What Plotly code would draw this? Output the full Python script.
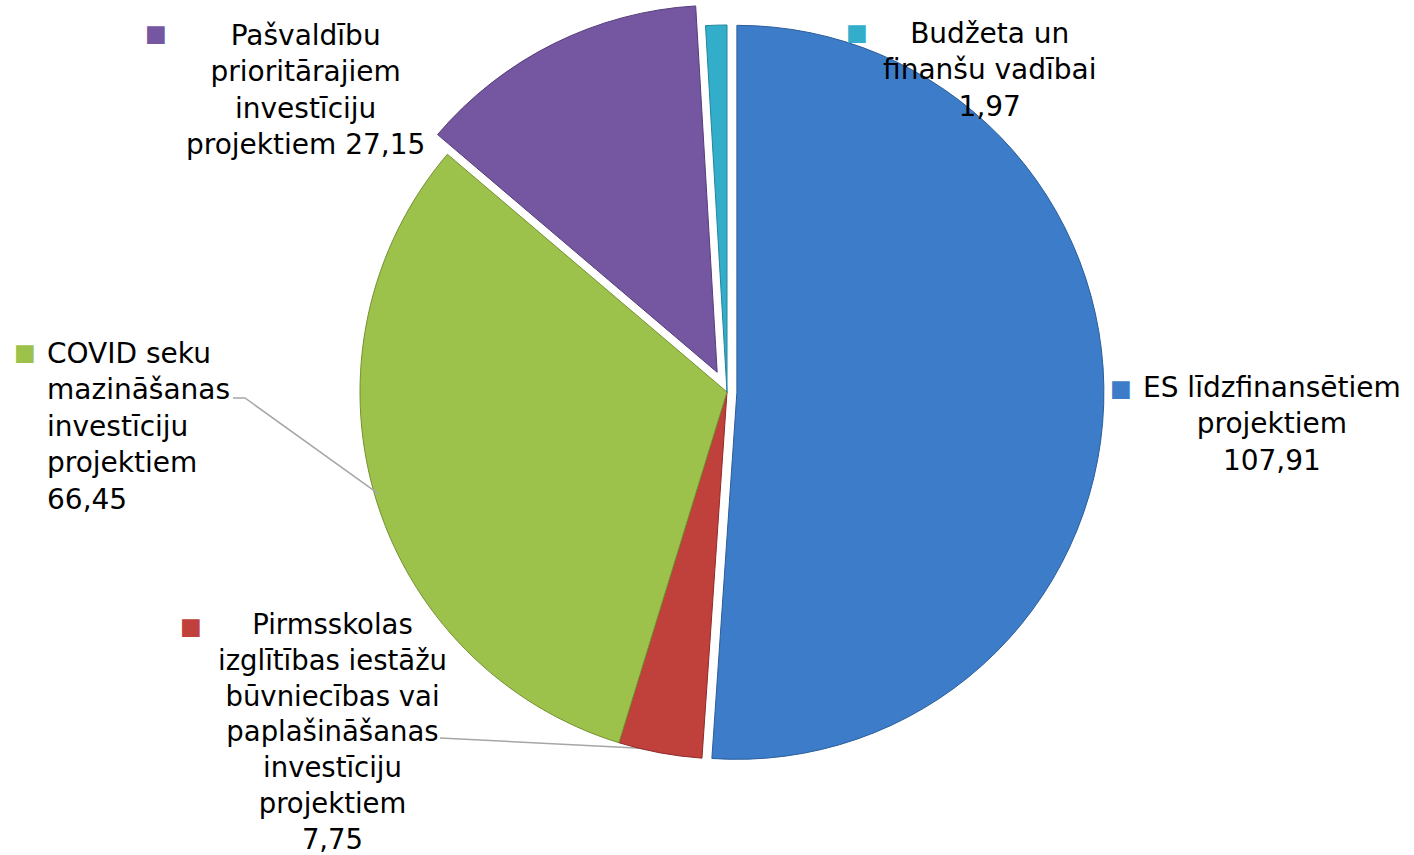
import math
import plotly.graph_objects as go

# ---- data ----
categories = [
    "ES līdzfinansētiem projektiem",
    "Pirmsskolas izglītības iestāžu būvniecības vai paplašināšanas investīciju projektiem",
    "COVID seku mazināšanas investīciju projektiem",
    "Pašvaldību prioritārajiem investīciju projektiem",
    "Budžeta un finanšu vadībai",
]
values = [107.91, 7.75, 66.45, 27.15, 1.97]
value_labels = ["107,91", "7,75", "66,45", "27,15", "1,97"]

# ---- style / layout ----
W, H = 1414, 855
colors = ["#3d7cc8", "#c0403c", "#9cc24c", "#7456a1", "#32aecb"]
edge_colors = ["#2c5d99", "#8e2b28", "#73922f", "#553d7a", "#23849c"]
pulls = [0.027, 0.0, 0.0, 0.06, 0.0]
CX, CY, R = 727, 392, 367  # desired pie centre / radius in px
FONT = "DejaVu Sans, Verdana, sans-serif"
FS = 28

box = 2 * R * (1 + max(pulls))
dom_x = [(CX - box / 2) / W, (CX + box / 2) / W]
dom_y = [1 - (CY + box / 2) / H, 1 - (CY - box / 2) / H]


def px(x):
    return x / W


def py(y):
    return 1 - y / H


fig = go.Figure(go.Pie(
    labels=categories,
    values=values,
    sort=False,
    direction="clockwise",
    rotation=0,
    pull=pulls,
    textinfo="none",
    marker=dict(colors=colors, line=dict(color=edge_colors, width=1)),
    domain=dict(x=dom_x, y=dom_y),
    showlegend=False,
    hovertemplate="%{label}: %{value}<extra></extra>",
))

# label blocks: (text lines, x, y-middle, align, square position, font size)
labels_cfg = [
    (["ES līdzfinansētiem", "projektiem", value_labels[0]], 1272, 424, "center", (1121, 388), FS),
    (["Pirmsskolas", "izglītības iestāžu", "būvniecības vai", "paplašināšanas",
      "investīciju", "projektiem", value_labels[1]], 332, 731, "center", (191, 626), 27.5),
    (["COVID seku", "mazināšanas", "investīciju", "projektiem", value_labels[2]], 45, 426, "left", (25, 352), FS),
    (["Pašvaldību", "prioritārajiem", "investīciju", "projektiem " + value_labels[3]], 305, 90, "center", (156, 33), FS),
    (["Budžeta un", "finanšu vadībai", value_labels[4]], 990, 70, "center", (857, 32), FS),
]

annotations = []
for i, (lines, x, y, align, sq, fs) in enumerate(labels_cfg):
    annotations.append(dict(
        x=px(x), y=py(y), xref="paper", yref="paper",
        xanchor="left" if align == "left" else "center", yanchor="middle",
        align=align, showarrow=False,
        text="<br>".join(lines),
        font=dict(family=FONT, size=fs, color="#000000"),
    ))
    annotations.append(dict(
        x=px(sq[0]), y=py(sq[1]), xref="paper", yref="paper",
        xanchor="center", yanchor="middle", showarrow=False,
        text="■", font=dict(family=FONT, size=23, color=colors[i]),
    ))

# leader lines, ending at slice midpoints computed from the data
total = sum(values)
cum = 0
mid_angles = []
for v in values:
    mid_angles.append((cum + v / 2) / total * 2 * math.pi)
    cum += v


def slice_point(i, frac=0.99):
    a = mid_angles[i]
    p = pulls[i]
    cx = CX + p * R * math.sin(a)
    cy = CY - p * R * math.cos(a)
    return cx + frac * R * math.sin(a), cy - frac * R * math.cos(a)


shapes = []
line_style = dict(color="#a6a6a6", width=1.5)
# COVID
ex, ey = slice_point(2)
shapes.append(dict(type="path", xref="paper", yref="paper",
                   path=f"M {px(233)} {py(398)} L {px(245)} {py(398)} L {px(ex)} {py(ey)}",
                   line=line_style))
# Pirmsskolas
ex, ey = slice_point(1)
shapes.append(dict(type="line", xref="paper", yref="paper", layer="below",
                   x0=px(440), y0=py(738), x1=px(ex), y1=py(ey), line=line_style))

fig.update_layout(
    width=W, height=H, autosize=False,
    margin=dict(l=0, r=0, t=0, b=0),
    paper_bgcolor="#ffffff", plot_bgcolor="#ffffff",
    annotations=annotations,
    shapes=shapes,
)

fig.write_html("out.html", config={"displayModeBar": False},
               post_script="document.body.style.margin='0px';")
